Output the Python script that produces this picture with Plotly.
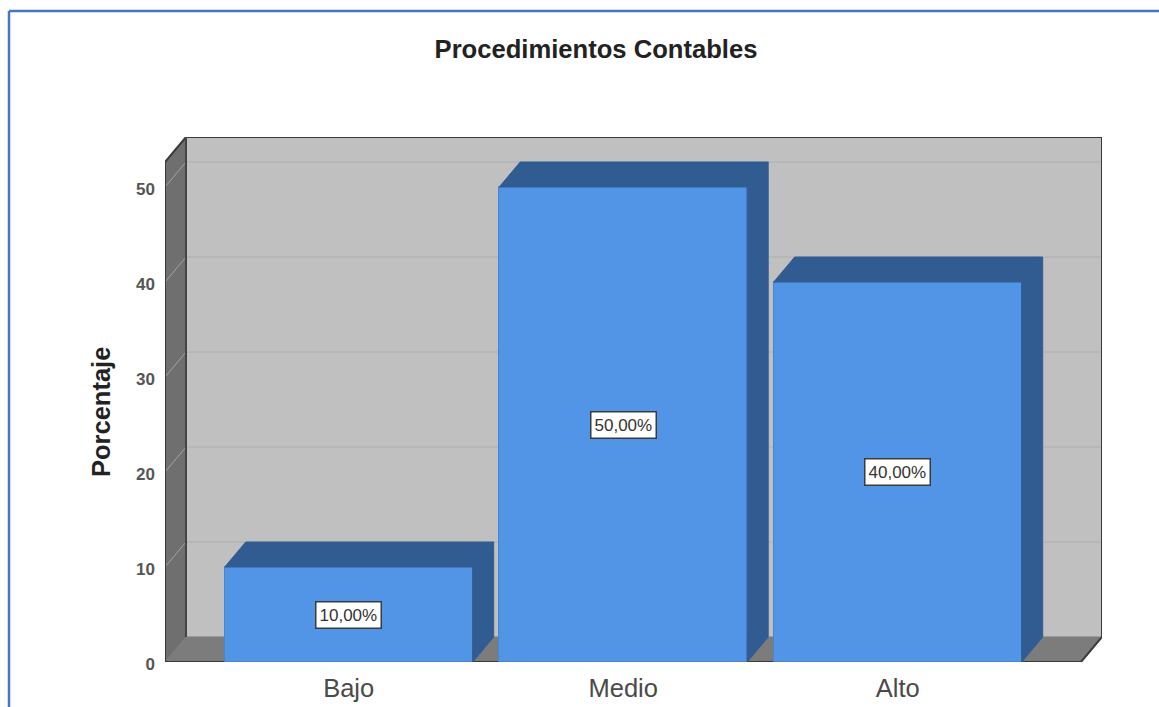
import plotly.graph_objects as go

categories = ["Bajo", "Medio", "Alto"]
values = [10, 50, 40]
value_labels = ["10,00%", "50,00%", "40,00%"]
y_ticks = [0, 10, 20, 30, 40, 50]
title_text = "Procedimientos Contables"
y_title = "Porcentaje"

W, H = 1159, 707
L, R, T, B = 165, 1102, 137, 662          # plot rectangle, pixels
PX_X = 274.5                              # pixels per category
PX_Y = 9.5                                # pixels per percent
X0 = (165 - 348.7) / PX_X
X1 = X0 + (R - L) / PX_X
Y1 = (B - T) / PX_Y
DX = 21 / PX_X                            # depth of the 3-D effect
DY = 25 / PX_Y
BAR_W = 248 / PX_X
FRONT_R = X1 - DX
TOP_FRONT = Y1 - DY

FRONT = "#5294e6"
SHADE = "#315c92"
WALL = "#c0c0c0"
LEFT = "#6f6f6f"
FLOOR = "#7c7c7c"
EDGE = "#3a3a3a"
GRID = "#b4b4b4"
GRID_L = "#a4a4a4"
FRAME = "#4475c9"


def poly(points, fill, line=None, width=1):
    path = "M " + " L ".join(f"{x},{y}" for x, y in points) + " Z"
    return dict(type="path", path=path, xref="x", yref="y", layer="below",
                fillcolor=fill, line=dict(color=line or fill, width=width))


def seg(points, color, width):
    path = "M " + " L ".join(f"{x},{y}" for x, y in points)
    return dict(type="path", path=path, xref="x", yref="y", layer="below",
                line=dict(color=color, width=width))


shapes = [
    poly([(X0 + DX, DY), (X1, DY), (X1, Y1), (X0 + DX, Y1)], WALL),
    poly([(X0, 0), (X0 + DX, DY), (X0 + DX, Y1), (X0, TOP_FRONT)], LEFT),
    poly([(X0, 0), (X0 + DX, DY), (X1, DY), (FRONT_R, 0)], FLOOR),
]
for v in y_ticks[1:]:
    shapes.append(seg([(X0, v), (X0 + DX, v + DY)], GRID_L, 1))
    shapes.append(seg([(X0 + DX, v + DY), (X1, v + DY)], GRID, 1.5))
shapes += [
    seg([(X0, 0), (X0, TOP_FRONT), (X0 + DX, Y1), (X1, Y1), (X1, DY), (FRONT_R, 0), (X0, 0)], EDGE, 2),
    seg([(X0 + DX, DY), (X0 + DX, Y1)], "#444444", 2),
]

# blue frame around the picture, open on the right and at the bottom
fx = lambda px: (px - L) / (R - L)
fy = lambda px: (B - px) / (B - T)
shapes += [
    dict(type="line", xref="paper", yref="paper", x0=fx(9), x1=fx(9), y0=fy(H), y1=fy(11),
         line=dict(color=FRAME, width=2.5)),
    dict(type="line", xref="paper", yref="paper", x0=fx(9), x1=fx(W), y0=fy(11), y1=fy(11),
         line=dict(color=FRAME, width=2.5)),
]

fig = go.Figure()

fig.add_trace(go.Bar(x=list(range(len(categories))), y=values, width=BAR_W,
                     marker=dict(color=FRONT, line=dict(color="#4a84cf", width=1)),
                     showlegend=False, hoverinfo="skip"))

for i, v in enumerate(values):
    xl, xr = i - BAR_W / 2, i + BAR_W / 2
    fig.add_trace(go.Scatter(x=[xl, xl + DX, xr + DX, xr, xl], y=[v, v + DY, v + DY, v, v],
                             mode="lines", fill="toself", fillcolor=SHADE,
                             line=dict(color=SHADE, width=1), showlegend=False, hoverinfo="skip"))
    fig.add_trace(go.Scatter(x=[xr, xr + DX, xr + DX, xr, xr], y=[v, v + DY, DY, 0, v],
                             mode="lines", fill="toself", fillcolor=SHADE,
                             line=dict(color=SHADE, width=1), showlegend=False, hoverinfo="skip"))

annotations = [
    dict(x=i, y=v / 2, xref="x", yref="y", text=t, showarrow=False,
         font=dict(family="Liberation Sans", size=17, color="#333333"),
         bgcolor="white", bordercolor="#3a3a3a", borderwidth=1.5, borderpad=3)
    for i, (v, t) in enumerate(zip(values, value_labels))
]
annotations.append(dict(x=fx(101), y=fy(412), xref="paper", yref="paper", text=y_title, textangle=-90,
                        showarrow=False, xanchor="center", yanchor="middle",
                        font=dict(family="Liberation Sans", size=25.5, color="#222222", weight="bold")))

fig.update_layout(
    width=W, height=H, autosize=False,
    margin=dict(l=L, r=W - R, t=T, b=H - B, pad=0),
    paper_bgcolor="white", plot_bgcolor="white",
    showlegend=False,
    title=dict(text=title_text, xref="container", yref="container", x=596 / W, xanchor="center",
               y=1 - 49 / H, yanchor="middle",
               font=dict(family="Liberation Sans", size=25.6, color="#222222", weight="bold")),
    xaxis=dict(range=[X0, X1], tickmode="array", tickvals=list(range(len(categories))),
               ticktext=categories, showgrid=False, zeroline=False, showline=False, ticks="",
               ticklabelstandoff=8, automargin=False,
               tickfont=dict(family="Liberation Sans", size=25.5, color="#4a4a4a")),
    yaxis=dict(range=[0, Y1], tickmode="array", tickvals=y_ticks, showgrid=False, zeroline=False,
               showline=False, ticks="", ticklabelstandoff=9, ticklabelshift=2, automargin=False,
               tickfont=dict(family="Liberation Sans", size=17, color="#555555", weight="bold")),
    shapes=shapes,
    annotations=annotations,
    bargap=0,
)

fig.write_html("out.html", config=dict(displayModeBar=False),
               post_script="document.body.style.margin='0';document.body.style.overflow='hidden';")
